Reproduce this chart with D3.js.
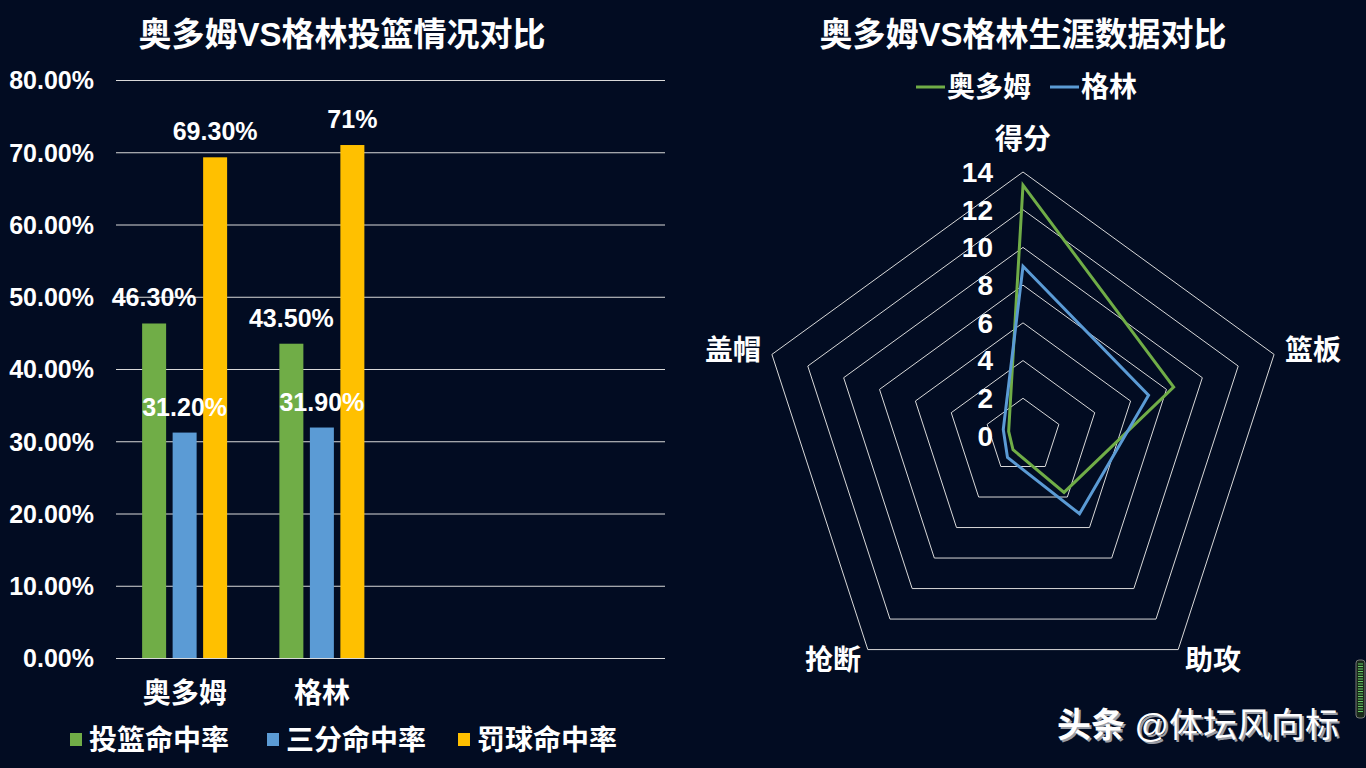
<!DOCTYPE html>
<html><head><meta charset="utf-8">
<script src="https://cdn.jsdelivr.net/npm/d3@7/dist/d3.min.js"></script>
<style>
html,body{margin:0;padding:0;background:#020c22;}
svg{display:block;}
text{font-family:"Liberation Sans","Noto Sans CJK SC",sans-serif;fill:#fff;}
</style></head>
<body>
<svg id="c" width="1366" height="768"></svg>
<script>
// ---- Data: bar chart ----
const barTitle = "奥多姆VS格林投篮情况对比";
const players = ["奥多姆", "格林", "", " "];
const barSeries = ["投篮命中率", "三分命中率", "罚球命中率"];
const fgPct = [46.3, 43.5];
const threePct = [31.2, 31.9];
const ftPct = [69.3, 71];
const barLabels = [["46.30%", "43.50%"], ["31.20%", "31.90%"], ["69.30%", "71%"]];
const yTicks = [0, 10, 20, 30, 40, 50, 60, 70, 80];

// ---- Data: radar chart ----
const radarTitle = "奥多姆VS格林生涯数据对比";
const radarAxes = ["得分", "篮板", "助攻", "抢断", "盖帽"];
const radarNames = ["奥多姆", "格林"];
const odomStats = [13.3, 8.4, 3.7, 0.9, 0.8];
const greenStats = [9.0, 7.0, 5.1, 1.4, 1.1];
const radarTicks = [0, 2, 4, 6, 8, 10, 12, 14];

const colors = ["#70ad47", "#5b9bd5", "#ffc000"];
const gridColor = "#d9d9d9";

const svg = d3.select("#c");

// ================= BAR CHART =================
const bx0 = 116, bx1 = 665, by0 = 80, by1 = 658;
const x = d3.scaleBand().domain(players).range([bx0, bx1]);
const y = d3.scaleLinear().domain([0, 80]).range([by1, by0]);
const barW = 24, barStep = 30.5;

svg.append("text").attr("x", 342).attr("y", 46).attr("text-anchor", "middle")
  .attr("font-size", 33).attr("font-weight", "bold").text(barTitle);

const yAxis = d3.axisLeft(y).tickValues(yTicks).tickSize(-(bx1 - bx0))
  .tickFormat(d => d.toFixed(2) + "%");
const yg = svg.append("g").attr("transform", `translate(${bx0},0)`).call(yAxis);
yg.select(".domain").remove();
yg.selectAll(".tick line").attr("stroke", gridColor).attr("stroke-width", 1);
yg.selectAll(".tick text").attr("x", -22).attr("dy", "0.35em")
  .attr("font-size", 25).attr("font-weight", "bold").attr("fill", "#fff");

const xAxis = d3.axisBottom(x).tickSize(0).tickFormat(d => d.trim());
const xg = svg.append("g").attr("transform", `translate(0,${by1})`).call(xAxis);
xg.select(".domain").remove();
xg.selectAll(".tick text").attr("dy", 0).attr("y", 45)
  .attr("font-size", 28).attr("font-weight", "bold").attr("fill", "#fff");

const seriesVals = [fgPct, threePct, ftPct];
const barsG = svg.append("g"), labG = svg.append("g");
seriesVals.forEach((vals, si) => {
  vals.forEach((v, i) => {
    const cx = x(players[i]) + x.bandwidth() / 2 + (si - 1) * barStep;
    barsG.append("rect").attr("x", cx - barW / 2).attr("y", y(v))
      .attr("width", barW).attr("height", y(0) - y(v)).attr("fill", colors[si]);
    labG.append("text").attr("x", cx).attr("y", y(v) - 17).attr("text-anchor", "middle")
      .attr("font-size", 25).attr("font-weight", "bold").text(barLabels[si][i]);
  });
});

// legend
const legX = [70, 267, 458];
barSeries.forEach((s, i) => {
  svg.append("rect").attr("x", legX[i]).attr("y", 733).attr("width", 12).attr("height", 13).attr("fill", colors[i]);
  svg.append("text").attr("x", legX[i] + 19).attr("y", 750)
    .attr("font-size", 28).attr("font-weight", "bold").text(s);
});

// ================= RADAR CHART =================
const rcx = 1023, rcy = 436, R = 264;
const r = d3.scaleLinear().domain([0, 14]).range([0, R]);
const ang = i => -Math.PI / 2 + i * 2 * Math.PI / radarAxes.length;
const pt = (i, v) => [rcx + r(v) * Math.cos(ang(i)), rcy + r(v) * Math.sin(ang(i))];

svg.append("text").attr("x", 1023).attr("y", 46).attr("text-anchor", "middle")
  .attr("font-size", 33).attr("font-weight", "bold").text(radarTitle);

// legend
const rlx = [916, 1050];
radarNames.forEach((n, i) => {
  svg.append("line").attr("x1", rlx[i]).attr("x2", rlx[i] + 29).attr("y1", 87).attr("y2", 87)
    .attr("stroke", colors[i]).attr("stroke-width", 3);
  svg.append("text").attr("x", rlx[i] + 31).attr("y", 97)
    .attr("font-size", 28).attr("font-weight", "bold").text(n);
});

// grid rings
const line = d3.line();
radarTicks.filter(t => t > 0).forEach(t => {
  const pts = radarAxes.map((a, i) => pt(i, t));
  svg.append("path").attr("d", line(pts) + "Z").attr("fill", "none")
    .attr("stroke", gridColor).attr("stroke-width", 1);
});

// tick labels
radarTicks.forEach(t => {
  svg.append("text").attr("x", 993).attr("y", rcy - r(t)).attr("dy", "0.35em")
    .attr("text-anchor", "end").attr("font-size", 28).attr("font-weight", "bold").text(t);
});

// axis labels
const labPos = [[1023, 139], [1313, 350], [1213, 660], [833, 660], [733, 350]];
radarAxes.forEach((a, i) => {
  svg.append("text").attr("x", labPos[i][0]).attr("y", labPos[i][1]).attr("dy", "0.35em")
    .attr("text-anchor", "middle").attr("font-size", 28).attr("font-weight", "bold").text(a);
});

// series
[odomStats, greenStats].forEach((vals, si) => {
  const pts = vals.map((v, i) => pt(i, v));
  svg.append("path").attr("d", line(pts) + "Z").attr("fill", "none")
    .attr("stroke", colors[si]).attr("stroke-width", 3).attr("stroke-linejoin", "miter");
});

// watermark
const wm = '<tspan font-weight="bold">头条</tspan> @体坛风向标';
svg.append("text").attr("x", 1057).attr("y", 737).attr("font-size", 34)
  .attr("fill", "#000").attr("opacity", 0.6).attr("transform", "translate(2,2)").html(wm);
svg.append("text").attr("x", 1057).attr("y", 737).attr("font-size", 34).html(wm);

// small scrollbar widget
const sb = svg.append("g");
sb.append("rect").attr("x", 1356).attr("y", 660).attr("width", 9).attr("height", 58).attr("rx", 3)
  .attr("fill", "#1a2a1a").attr("stroke", "#777");
d3.range(664, 714, 2.5).forEach(yy => {
  sb.append("line").attr("x1", 1358).attr("x2", 1363).attr("y1", yy).attr("y2", yy)
    .attr("stroke", "#6c6").attr("stroke-width", 1);
});
</script>
</body></html>
